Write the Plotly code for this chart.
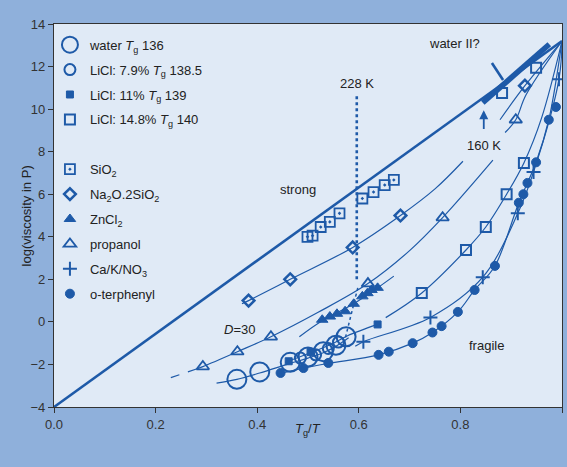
import plotly.graph_objects as go

BLUE = "#1e5aa8"
TXT = "#222222"
FONT = "Liberation Sans, Arial, sans-serif"
PLOT_BG = "#e0eaf6"
PAGE_BG = "#8fb0db"

# ---- data ----
strong_x = [0.0, 1.0]
strong_y = [-4.0, 13.2]

water2_x = [0.844, 0.975]
water2_y = [10.3, 13.05]

dot228_x = [0.596, 0.596]
dot228_y = [10.6, 1.9]
dot228b_x = [0.598, 0.572]
dot228b_y = [1.6, -0.9]

water_x = [0.36, 0.405, 0.465, 0.50, 0.53, 0.555, 0.575]
water_y = [-2.7, -2.35, -1.9, -1.65, -1.4, -1.1, -0.7]
water_line_x = [0.32, 0.36, 0.405, 0.465, 0.50, 0.53, 0.555, 0.58]
water_line_y = [-2.88, -2.7, -2.4, -1.95, -1.7, -1.45, -1.15, -0.75]

licl79_x = [0.485, 0.515, 0.54, 0.56]
licl79_y = [-1.7, -1.55, -1.25, -0.95]

licl11_x = [0.462, 0.505, 0.637]
licl11_y = [-1.85, -1.42, -0.12]
licl11_line_x = [0.455, 0.505, 0.55, 0.578, 0.637]
licl11_line_y = [-1.9, -1.45, -1.0, -0.65, -0.12]

licl148_x = [0.724, 0.811, 0.85, 0.891, 0.925, 0.882, 0.949]
licl148_y = [1.36, 3.38, 4.46, 6.0, 7.47, 10.76, 11.94]
licl148_line_x = [0.653, 0.724, 0.811, 0.85, 0.891, 0.925, 0.96, 1.0]
licl148_line_y = [0.2, 1.36, 3.38, 4.46, 6.0, 7.47, 9.6, 13.2]

sio2_x = [0.499, 0.509, 0.525, 0.543, 0.562, 0.607, 0.629, 0.651, 0.669]
sio2_y = [4.0, 4.05, 4.46, 4.7, 5.1, 5.8, 6.1, 6.43, 6.67]

na2o_x = [0.383, 0.465, 0.588, 0.682, 0.927]
na2o_y = [1.0, 2.0, 3.5, 5.0, 11.1]
na2o_line_x = [0.37, 0.383, 0.465, 0.588, 0.682, 0.75, 0.805, None, 0.878, 0.927, 1.0]
na2o_line_y = [0.85, 1.0, 2.0, 3.5, 5.0, 6.25, 7.55, None, 9.5, 11.1, 13.2]

zncl2_x = [0.528, 0.543, 0.557, 0.573, 0.59, 0.607, 0.617, 0.625, 0.637]
zncl2_y = [0.1, 0.25, 0.38, 0.5, 0.85, 1.2, 1.35, 1.5, 1.6]
zncl2_line_x = [0.483, 0.528, 0.59, 0.637, 0.669]
zncl2_line_y = [-0.7, 0.05, 0.85, 1.6, 2.15]

prop_x = [0.293, 0.361, 0.427, 0.618, 0.765, 0.909]
prop_y = [-2.1, -1.4, -0.7, 1.8, 4.9, 9.5]
prop_dash_x = [0.23, 0.282]
prop_dash_y = [-2.62, -2.2]
prop_line_x = [0.282, 0.293, 0.361, 0.427, 0.52, 0.618, 0.7, 0.765, 0.864, None, 0.888, 0.909, 0.929, 1.0]
prop_line_y = [-2.2, -2.1, -1.4, -0.7, 0.45, 1.8, 3.35, 4.9, 7.6, None, 8.9, 9.5, 10.66, 13.2]

ca_x = [0.609, 0.741, 0.844, 0.913, 0.944, 0.994]
ca_y = [-0.93, 0.21, 2.1, 5.1, 7.05, 11.4]
ca_line_x = [0.593, 0.609, 0.741, 0.844, 0.913, 0.944, 0.994, 1.0]
ca_line_y = [-1.15, -0.93, 0.21, 2.1, 5.1, 7.05, 11.4, 13.2]

ot_x = [0.446, 0.491, 0.54, 0.639, 0.659, 0.706, 0.745, 0.763, 0.795, 0.828,
        0.868, 0.915, 0.924, 0.932, 0.949, 0.974, 0.988]
ot_y = [-2.4, -2.17, -1.93, -1.55, -1.4, -1.0, -0.5, -0.2, 0.47, 1.5,
        2.63, 5.6, 6.0, 6.53, 7.5, 9.5, 10.1]
ot_line_x = [0.44, 0.491, 0.54, 0.639, 0.706, 0.745, 0.795, 0.828, 0.868,
             0.915, 0.949, 0.974, 1.0]
ot_line_y = [-2.45, -2.17, -1.95, -1.55, -1.0, -0.5, 0.47, 1.5, 2.63,
             5.6, 7.5, 9.5, 13.2]

fig = go.Figure()

def line(x, y, w=1.2, dash="solid", shape="linear"):
    fig.add_trace(go.Scatter(x=x, y=y, mode="lines", showlegend=False,
                             hoverinfo="skip", connectgaps=False,
                             line=dict(color=BLUE, width=w, dash=dash, shape=shape)))

# guide lines
line(strong_x, strong_y, w=2.6)
line(water2_x, water2_y, w=5.5)
line(dot228_x, dot228_y, w=2.6, dash="dot")
line(dot228b_x, dot228b_y, w=1.5, dash="dot")

# series curves
line(water_line_x, water_line_y, shape="spline")
line(licl11_line_x, licl11_line_y, shape="spline")
line(licl148_line_x, licl148_line_y, shape="spline")
line(na2o_line_x, na2o_line_y, shape="spline")
line(zncl2_line_x, zncl2_line_y, shape="spline")
line(prop_dash_x, prop_dash_y, dash="dash")
line(prop_line_x, prop_line_y, shape="spline")
line(ca_line_x, ca_line_y, shape="spline")
line(ot_line_x, ot_line_y, shape="spline")

def pts(x, y, name, symbol, size, lw=2, group=None):
    fig.add_trace(go.Scatter(
        x=x, y=y, mode="markers", name=name, legendgroup=group or name,
        marker=dict(symbol=symbol, size=size, color=BLUE,
                    line=dict(color=BLUE, width=lw))))

pts(water_x, water_y, "water <i>T</i><sub>g</sub> 136", "circle-open", 19, 2)
pts(licl79_x, licl79_y, "LiCl: 7.9% <i>T</i><sub>g</sub> 138.5", "circle-open", 11, 2)
pts(licl11_x, licl11_y, "LiCl: 11% <i>T</i><sub>g</sub> 139", "square", 7, 1)
pts(licl148_x, licl148_y, "LiCl: 14.8% <i>T</i><sub>g</sub> 140", "square-open", 10, 2)
# spacer in legend
fig.add_trace(go.Scatter(x=[None], y=[None], mode="markers", name=" ",
                         legendgroup="spacer",
                         marker=dict(size=1, color="rgba(0,0,0,0)")))
pts(sio2_x, sio2_y, "SiO<sub>2</sub>", "square-open-dot", 10, 1.8)
pts(na2o_x, na2o_y, "Na<sub>2</sub>O.2SiO<sub>2</sub>", "diamond-open", 9, 2.5)
pts(zncl2_x, zncl2_y, "ZnCl<sub>2</sub>", "triangle-up", 10, 1)
pts(prop_x, prop_y, "propanol", "triangle-up-open", 11, 1.8)
pts(ca_x, ca_y, "Ca/K/NO<sub>3</sub>", "cross-thin-open", 10, 2)
pts(ot_x, ot_y, "o-terphenyl", "circle", 9, 1)

ann = dict(showarrow=False, font=dict(family=FONT, size=13, color=TXT))
annotations = [
    dict(x=0.789, y=13.1, text="water II?", **ann),
    dict(x=0.596, y=11.2, text="228 K", **ann),
    dict(x=0.846, y=8.3, text="160 K", **ann),
    dict(x=0.48, y=6.2, text="strong", **ann),
    dict(x=0.852, y=-1.13, text="fragile", **ann),
    dict(x=0.366, y=-0.38, text="<i>D</i>=30", **ann),
    dict(x=0.846, y=9.95, ax=0.846, ay=9.0, axref="x", ayref="y", text="",
         showarrow=True, arrowhead=2, arrowsize=1, arrowwidth=1.8, arrowcolor=BLUE),
    dict(xref="paper", yref="paper", x=0.5, y=-0.086, text="<i>T</i><sub>g</sub>/<i>T</i>", **ann),
    dict(xref="paper", yref="paper", x=-0.072, y=0.5, text="log(viscosity in P)",
         textangle=-90, **ann),
]

fig.update_layout(
    width=567, height=467,
    margin=dict(l=54, r=5, t=24, b=60),
    paper_bgcolor=PAGE_BG,
    plot_bgcolor=PLOT_BG,
    font=dict(family=FONT, size=13, color=TXT),
    annotations=annotations,
    shapes=[
        dict(type="line", xref="x", yref="y", x0=0.862, y0=12.17, x1=0.884, y1=11.37,
             line=dict(color=BLUE, width=2.6)),
    ],
    legend=dict(x=-0.008, y=0.985, xanchor="left", yanchor="top",
                bgcolor="rgba(0,0,0,0)", tracegroupgap=5,
                font=dict(family=FONT, size=13, color=TXT)),
    showlegend=True,
)

fig.update_xaxes(range=[0, 1], tickvals=[0, 0.2, 0.4, 0.6, 0.8, 1.0],
                 tickformat=".1f", ticks="outside", ticklen=5, tickcolor="#333",
                 showgrid=False, zeroline=False, showline=True, linecolor="#333",
                 linewidth=1.2, mirror=True, tickfont=dict(size=13, color="#333"))
fig.update_yaxes(range=[-4, 14], tickvals=list(range(-4, 15, 2)),
                 ticks="outside", ticklen=5, tickcolor="#333",
                 showgrid=False, zeroline=False, showline=True, linecolor="#333",
                 linewidth=1.2, mirror=True, tickfont=dict(size=13, color="#333"))

fig.write_html("out.html")
